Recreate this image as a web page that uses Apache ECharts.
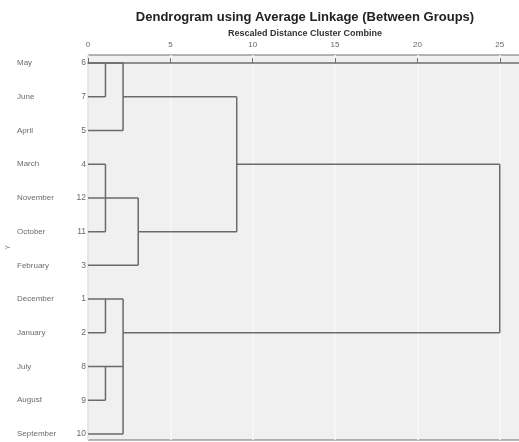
<!DOCTYPE html>
<html>
<head>
<meta charset="utf-8">
<script src="https://cdn.jsdelivr.net/npm/echarts@6/dist/echarts.min.js"></script>
<style>
html,body{margin:0;padding:0;background:#fff;}
#chart{width:519px;height:442px;}
</style>
</head>
<body>
<div id="chart"></div>
<script>
// Leaf order (top to bottom) and SPSS case numbers
const months = ['May','June','April','March','November','October','February','December','January','July','August','September'];
const caseNumbers = [6,7,5,4,12,11,3,1,2,8,9,10];
// Rescaled distances at which clusters combine
const dMerge1 = 1.06;
const dMerge2 = 2.13;
const dMerge3 = 3.05;
const dMerge4 = 9.03;
const dMerge5 = 25;
// Horizontal segments: [row, fromDistance, toDistance]
const horizontals = [
  [0, 0, dMerge2], [1, 0, dMerge1], [1, dMerge2, dMerge4], [2, 0, dMerge2],
  [3, 0, dMerge1], [3, dMerge4, dMerge5], [4, 0, dMerge3], [5, 0, dMerge1],
  [5, dMerge3, dMerge4], [6, 0, dMerge3], [7, 0, dMerge2], [8, 0, dMerge1],
  [8, dMerge2, dMerge5], [9, 0, dMerge2], [10, 0, dMerge1], [11, 0, dMerge2]
];
// Vertical segments: [distance, fromRow, toRow]
const verticals = [
  [dMerge1, 0, 1], [dMerge2, 0, 2], [dMerge1, 3, 5], [dMerge3, 4, 6],
  [dMerge4, 1, 5], [dMerge5, 3, 8], [dMerge1, 7, 8], [dMerge1, 9, 10], [dMerge2, 7, 11]
];
const tickValues = [0, 5, 10, 15, 20, 25];

const segData = [];
horizontals.forEach(h => { segData.push([h[1], h[0]], [h[2], h[0]], null); });
verticals.forEach(v => { segData.push([v[0], v[1]], [v[0], v[2]], null); });
const segSeriesData = segData.map(p => p === null ? [null, null] : p);

const labelData = months.map((m, i) => ({ value: [0, i], name: m, caseNo: caseNumbers[i] }));

const chart = echarts.init(document.getElementById('chart'), null, {renderer: 'canvas'});
chart.setOption({
  animation: false,
  backgroundColor: '#ffffff',
  title: [
    { text: 'Dendrogram using Average Linkage (Between Groups)', left: 300, top: 6, textAlign: 'center',
      textStyle: { fontFamily: 'Liberation Sans, Arial, sans-serif', fontSize: 13, fontWeight: 'bold', color: '#222' } },
    { text: 'Rescaled Distance Cluster Combine', left: 300, top: 24, textAlign: 'center',
      textStyle: { fontFamily: 'Liberation Sans, Arial, sans-serif', fontSize: 9, fontWeight: 'bold', color: '#333' } }
  ],
  grid: { left: 88, right: -2, top: 55, bottom: 2, outerBoundsMode: 'none', containLabel: false,
    show: true, backgroundColor: '#f0f0f0', borderColor: '#6e6e6e', borderWidth: 1 },
  xAxis: {
    type: 'value', position: 'top', min: 0, max: 26.29, interval: 5,
    axisLine: { show: true, lineStyle: { color: '#6e6e6e', width: 1.5 } },
    axisTick: { show: true, inside: false, length: 5, lineStyle: { color: '#6e6e6e' } },
    axisLabel: { show: true, fontSize: 8, color: '#666', margin: 6, fontFamily: 'Liberation Sans, Arial, sans-serif',
      formatter: v => tickValues.indexOf(Math.round(v * 100) / 100) >= 0 ? String(v) : '' },
    splitLine: { show: true, lineStyle: { color: '#f9f9f9', width: 1.5 } }
  },
  yAxis: {
    type: 'value', inverse: true, min: -0.24, max: 11.18,
    axisLine: { show: false }, axisTick: { show: false }, axisLabel: { show: false }, splitLine: { show: false },
    name: 'Y', nameLocation: 'middle', nameRotate: 90, nameGap: 76,
    nameTextStyle: { fontSize: 7, color: '#888', fontFamily: 'Liberation Sans, Arial, sans-serif' }
  },
  series: [
    {
      type: 'line', data: segSeriesData, connectNulls: false, symbol: 'none',
      lineStyle: { color: '#6a6a6a', width: 1.5 }, silent: true, z: 3
    },
    {
      type: 'scatter', data: labelData, symbolSize: 0, silent: true, z: 4,
      label: {
        show: true, position: 'left', distance: 2,
        formatter: p => '{m|' + p.data.name + '}{n|' + p.data.caseNo + '}',
        rich: {
          m: { width: 55, align: 'left', fontSize: 8, color: '#444', fontFamily: 'Liberation Sans, Arial, sans-serif' },
          n: { width: 14, align: 'right', fontSize: 8.5, color: '#444', fontFamily: 'Liberation Sans, Arial, sans-serif' }
        }
      }
    }
  ]
});
</script>
</body>
</html>
